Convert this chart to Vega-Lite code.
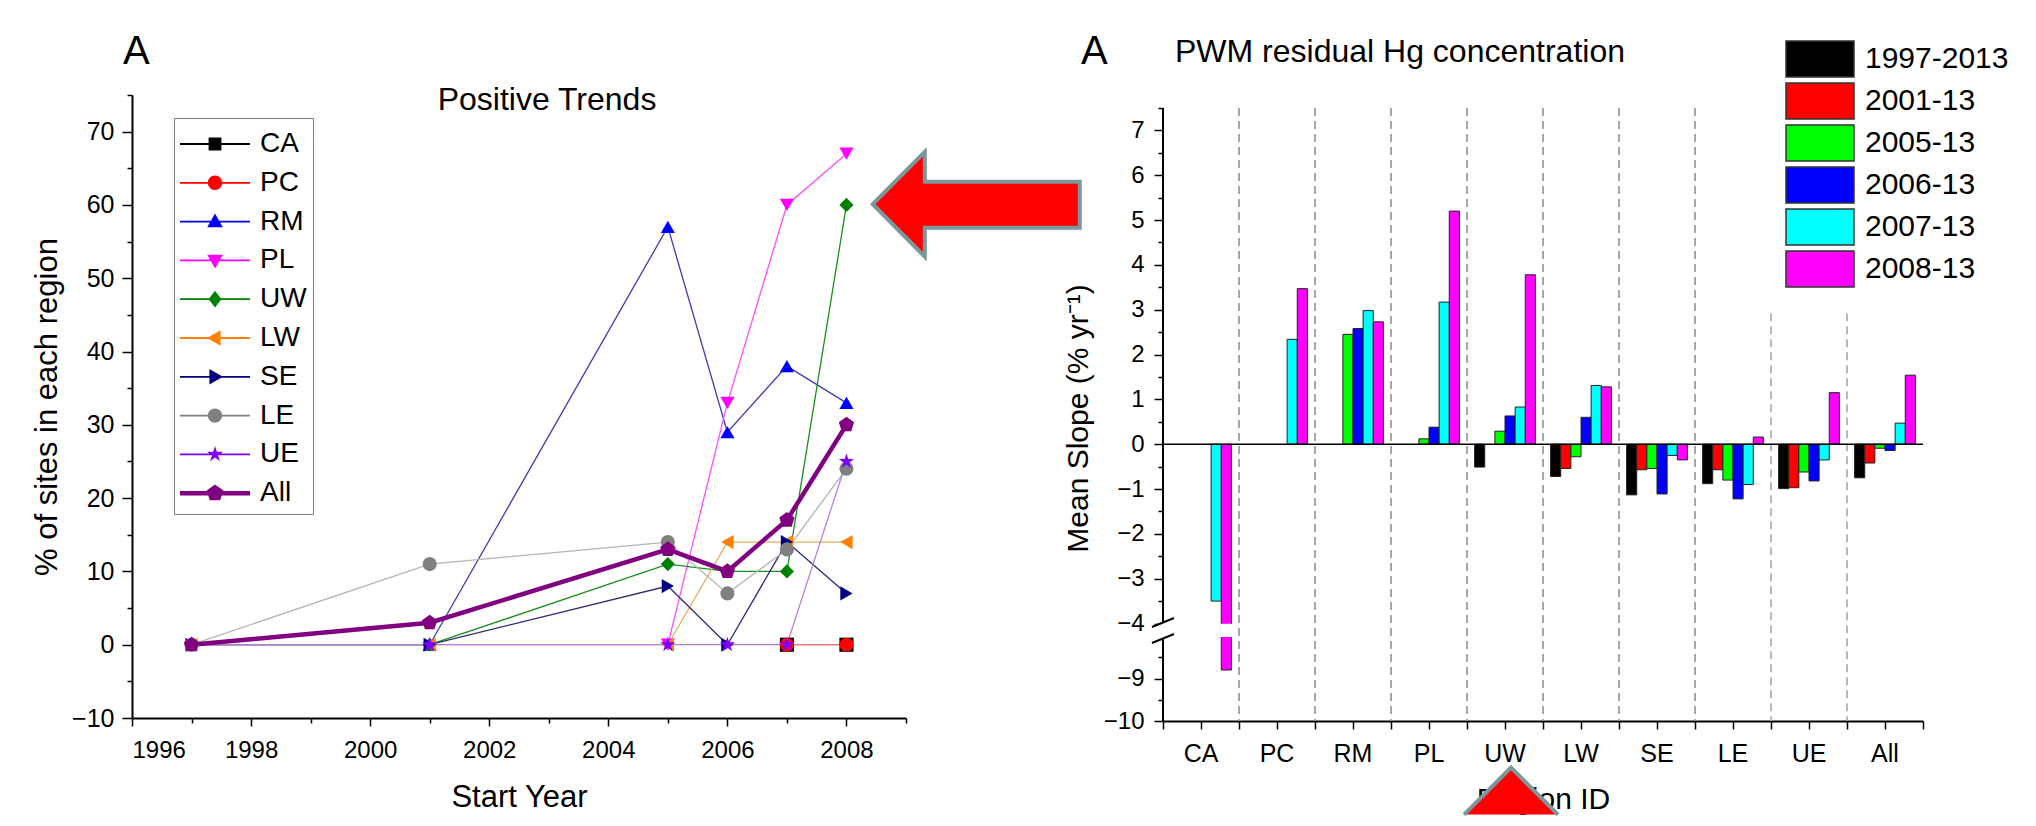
{
  "$schema": "https://vega.github.io/schema/vega-lite/v6.json",
  "background": "white",
  "padding": {"left": 31, "top": 18, "right": 0, "bottom": 0},
  "spacing": -25,
  "config": {
    "font": "Liberation Sans",
    "view": {"stroke": null},
    "axis": {"labelColor": "#000", "titleColor": "#000", "tickColor": "#000", "domainColor": "#000", "titleFontWeight": "normal", "labelFont": "Liberation Sans", "titleFont": "Liberation Sans", "grid": false, "domainWidth": 2, "tickWidth": 1.5},
    "legend": {"labelFont": "Liberation Sans", "labelColor": "#000"},
    "title": {"font": "Liberation Sans", "fontWeight": "normal", "color": "#000"}
  },
  "resolve": {
    "scale": {"color": "independent", "fill": "independent", "shape": "independent", "stroke": "independent"},
    "legend": {"color": "independent", "fill": "independent", "shape": "independent", "stroke": "independent"}
  },
  "datasets": {
    "bars": [
      {"region": "CA", "period": "2007-13", "slope": -3.5}, {"region": "CA", "period": "2008-13", "slope": -8.8},
      {"region": "PC", "period": "2007-13", "slope": 2.34}, {"region": "PC", "period": "2008-13", "slope": 3.47},
      {"region": "RM", "period": "2005-13", "slope": 2.45}, {"region": "RM", "period": "2006-13", "slope": 2.58}, {"region": "RM", "period": "2007-13", "slope": 2.98}, {"region": "RM", "period": "2008-13", "slope": 2.73},
      {"region": "PL", "period": "2005-13", "slope": 0.12}, {"region": "PL", "period": "2006-13", "slope": 0.38}, {"region": "PL", "period": "2007-13", "slope": 3.17}, {"region": "PL", "period": "2008-13", "slope": 5.2},
      {"region": "UW", "period": "1997-2013", "slope": -0.51}, {"region": "UW", "period": "2005-13", "slope": 0.29}, {"region": "UW", "period": "2006-13", "slope": 0.63}, {"region": "UW", "period": "2007-13", "slope": 0.83}, {"region": "UW", "period": "2008-13", "slope": 3.78},
      {"region": "LW", "period": "1997-2013", "slope": -0.72}, {"region": "LW", "period": "2001-13", "slope": -0.54}, {"region": "LW", "period": "2005-13", "slope": -0.28}, {"region": "LW", "period": "2006-13", "slope": 0.6}, {"region": "LW", "period": "2007-13", "slope": 1.31}, {"region": "LW", "period": "2008-13", "slope": 1.28},
      {"region": "SE", "period": "1997-2013", "slope": -1.13}, {"region": "SE", "period": "2001-13", "slope": -0.57}, {"region": "SE", "period": "2005-13", "slope": -0.54}, {"region": "SE", "period": "2006-13", "slope": -1.11}, {"region": "SE", "period": "2007-13", "slope": -0.25}, {"region": "SE", "period": "2008-13", "slope": -0.35},
      {"region": "LE", "period": "1997-2013", "slope": -0.88}, {"region": "LE", "period": "2001-13", "slope": -0.57}, {"region": "LE", "period": "2005-13", "slope": -0.8}, {"region": "LE", "period": "2006-13", "slope": -1.22}, {"region": "LE", "period": "2007-13", "slope": -0.9}, {"region": "LE", "period": "2008-13", "slope": 0.16},
      {"region": "UE", "period": "1997-2013", "slope": -0.99}, {"region": "UE", "period": "2001-13", "slope": -0.97}, {"region": "UE", "period": "2005-13", "slope": -0.62}, {"region": "UE", "period": "2006-13", "slope": -0.82}, {"region": "UE", "period": "2007-13", "slope": -0.35}, {"region": "UE", "period": "2008-13", "slope": 1.15},
      {"region": "All", "period": "1997-2013", "slope": -0.75}, {"region": "All", "period": "2001-13", "slope": -0.42}, {"region": "All", "period": "2005-13", "slope": -0.09}, {"region": "All", "period": "2006-13", "slope": -0.14}, {"region": "All", "period": "2007-13", "slope": 0.47}, {"region": "All", "period": "2008-13", "slope": 1.54}
    ],
    "bounds": [{"region": "PC"}, {"region": "RM"}, {"region": "PL"}, {"region": "UW"}, {"region": "LW"}, {"region": "SE"}, {"region": "LE"}, {"region": "UE"}, {"region": "All"}]
  },
  "hconcat": [
    {
      "title": {"text": "A", "fontSize": 40, "anchor": "start", "frame": "group", "dx": -9, "offset": 12},
      "resolve": {
        "scale": {"color": "independent", "fill": "independent", "shape": "independent", "stroke": "independent"},
        "legend": {"color": "independent", "fill": "independent", "shape": "independent", "stroke": "independent"}
      },
      "vconcat": [
        {
          "width": 774,
          "height": 623,
          "title": {"text": "Positive Trends", "fontSize": 32, "anchor": "middle", "frame": "group", "dx": 28, "offset": -23},
          "data": {"values": [
            {"series": "CA", "year": 2007, "pct": 0}, {"series": "CA", "year": 2008, "pct": 0},
            {"series": "PC", "year": 2007, "pct": 0}, {"series": "PC", "year": 2008, "pct": 0},
            {"series": "RM", "year": 2001, "pct": 0}, {"series": "RM", "year": 2005, "pct": 57}, {"series": "RM", "year": 2006, "pct": 29}, {"series": "RM", "year": 2007, "pct": 38}, {"series": "RM", "year": 2008, "pct": 33},
            {"series": "PL", "year": 2005, "pct": 0}, {"series": "PL", "year": 2006, "pct": 33}, {"series": "PL", "year": 2007, "pct": 60}, {"series": "PL", "year": 2008, "pct": 67},
            {"series": "UW", "year": 1997, "pct": 0}, {"series": "UW", "year": 2001, "pct": 0}, {"series": "UW", "year": 2005, "pct": 11}, {"series": "UW", "year": 2006, "pct": 10}, {"series": "UW", "year": 2007, "pct": 10}, {"series": "UW", "year": 2008, "pct": 60},
            {"series": "LW", "year": 1997, "pct": 0}, {"series": "LW", "year": 2001, "pct": 0}, {"series": "LW", "year": 2005, "pct": 0}, {"series": "LW", "year": 2006, "pct": 14}, {"series": "LW", "year": 2007, "pct": 14}, {"series": "LW", "year": 2008, "pct": 14},
            {"series": "SE", "year": 1997, "pct": 0}, {"series": "SE", "year": 2001, "pct": 0}, {"series": "SE", "year": 2005, "pct": 8}, {"series": "SE", "year": 2006, "pct": 0}, {"series": "SE", "year": 2007, "pct": 14}, {"series": "SE", "year": 2008, "pct": 7},
            {"series": "LE", "year": 1997, "pct": 0}, {"series": "LE", "year": 2001, "pct": 11}, {"series": "LE", "year": 2005, "pct": 14}, {"series": "LE", "year": 2006, "pct": 7}, {"series": "LE", "year": 2007, "pct": 13}, {"series": "LE", "year": 2008, "pct": 24},
            {"series": "UE", "year": 1997, "pct": 0}, {"series": "UE", "year": 2001, "pct": 0}, {"series": "UE", "year": 2005, "pct": 0}, {"series": "UE", "year": 2006, "pct": 0}, {"series": "UE", "year": 2007, "pct": 0}, {"series": "UE", "year": 2008, "pct": 25},
            {"series": "All", "year": 1997, "pct": 0}, {"series": "All", "year": 2001, "pct": 3}, {"series": "All", "year": 2005, "pct": 13}, {"series": "All", "year": 2006, "pct": 10}, {"series": "All", "year": 2007, "pct": 17}, {"series": "All", "year": 2008, "pct": 30}
          ]},
          "resolve": {"axis": {"x": "independent", "y": "independent"}},
          "layer": [
            {
              "transform": [{"filter": "datum.series !== 'All'"}],
              "mark": {"type": "line", "strokeWidth": 1.3},
              "encoding": {
                "x": {"field": "year", "type": "quantitative", "scale": {"domain": [1996, 2009], "nice": false, "zero": false},
                  "axis": {"orient": "bottom", "values": [1996, 1998, 2000, 2002, 2004, 2006, 2008], "format": "d", "labelFontSize": 24, "tickSize": 8, "labelPadding": 12, "title": "Start Year", "titleFontSize": 31, "titlePadding": 20}},
                "y": {"field": "pct", "type": "quantitative", "scale": {"domain": [-10, 75], "nice": false},
                  "axis": {"orient": "left", "values": [-10, 0, 10, 20, 30, 40, 50, 60, 70], "labelFontSize": 25, "tickSize": 10, "labelPadding": 8, "title": "% of sites in each region", "titleFontSize": 31, "titlePadding": 8}},
                "stroke": {"field": "series", "type": "nominal",
                  "scale": {"domain": ["CA", "PC", "RM", "PL", "UW", "LW", "SE", "LE", "UE", "All"], "range": ["#8c8c8c", "#ff7070", "#3c3cb4", "#ff4dff", "#1a8f1a", "#e0b060", "#2a2a7a", "#b4b4b4", "#b27fe0", "#800080"]},
                  "legend": {"title": null, "orient": "none", "legendX": 42, "legendY": 23, "labelFontSize": 28, "labelOffset": 40, "symbolSize": 1600, "symbolStrokeWidth": 0, "symbolOpacity": 1, "padding": 6, "rowPadding": 4.8, "strokeColor": "#7f7f7f", "fillColor": "white"}}
              }
            },
            {
              "transform": [{"filter": "datum.series === 'All'"}],
              "mark": {"type": "line", "strokeWidth": 4.5, "color": "#800080"},
              "encoding": {
                "x": {"field": "year", "type": "quantitative", "axis": null},
                "y": {"field": "pct", "type": "quantitative", "axis": null}
              }
            },
            {
              "mark": {"type": "point", "filled": true, "opacity": 0, "strokeWidth": 0},
              "encoding": {
                "x": {"field": "year", "type": "quantitative", "axis": {"orient": "bottom", "values": [1997, 1999, 2001, 2003, 2005, 2007, 2009], "labels": false, "tickSize": 5, "domain": false, "title": null}},
                "y": {"field": "pct", "type": "quantitative", "axis": {"orient": "left", "values": [-5, 5, 15, 25, 35, 45, 55, 65, 75], "labels": false, "tickSize": 5, "domain": false, "title": null}},
                "shape": {"field": "series", "type": "nominal",
                  "scale": {"domain": ["CA", "PC", "RM", "PL", "UW", "LW", "SE", "LE", "UE", "All"], "range": [
                    "M-1,-0.045H2.5V0.045H-1ZM0.43,-0.32H1.07V0.32H0.43Z",
                    "M-1,-0.045H2.5V0.045H-1ZM0.39,0A0.36,0.36,0,1,1,1.11,0A0.36,0.36,0,1,1,0.39,0Z",
                    "M-1,-0.045H2.5V0.045H-1ZM0.75,-0.4L1.14,0.28L0.36,0.28Z",
                    "M-1,-0.045H2.5V0.045H-1ZM0.75,0.4L0.36,-0.28L1.14,-0.28Z",
                    "M-1,-0.045H2.5V0.045H-1ZM0.75,-0.42L1.07,0L0.75,0.42L0.43,0Z",
                    "M-1,-0.045H2.5V0.045H-1ZM0.35,0L1.03,-0.39L1.03,0.39Z",
                    "M-1,-0.045H2.5V0.045H-1ZM1.15,0L0.47,0.39L0.47,-0.39Z",
                    "M-1,-0.045H2.5V0.045H-1ZM0.39,0A0.36,0.36,0,1,1,1.11,0A0.36,0.36,0,1,1,0.39,0Z",
                    "M-1,-0.045H2.5V0.045H-1ZM0.75,-0.42L0.844,-0.13L1.149,-0.13L0.903,0.05L0.997,0.34L0.75,0.16L0.503,0.34L0.597,0.05L0.351,-0.13L0.656,-0.13Z",
                    "M-1,-0.11H2.5V0.11H-1ZM0.75,-0.44L1.168,-0.136L1.009,0.356L0.491,0.356L0.332,-0.136Z"]},
                  "legend": {"title": null, "orient": "none", "legendX": 42, "legendY": 23, "labelFontSize": 28, "labelOffset": 40, "symbolSize": 1600, "symbolStrokeWidth": 0, "symbolOpacity": 1, "padding": 6, "rowPadding": 4.8, "strokeColor": "#7f7f7f", "fillColor": "white"}},
                "fill": {"field": "series", "type": "nominal",
                  "scale": {"domain": ["CA", "PC", "RM", "PL", "UW", "LW", "SE", "LE", "UE", "All"], "range": ["#000000", "#ff0000", "#0000ff", "#ff00ff", "#008000", "#ff8000", "#000080", "#808080", "#8000ff", "#800080"]},
                  "legend": {"title": null, "orient": "none", "legendX": 42, "legendY": 23, "labelFontSize": 28, "labelOffset": 40, "symbolSize": 1600, "symbolStrokeWidth": 0, "symbolOpacity": 1, "padding": 6, "rowPadding": 4.8, "strokeColor": "#7f7f7f", "fillColor": "white"}}
              }
            },
            {"transform": [{"filter": "datum.series === 'CA'"}], "mark": {"type": "point", "shape": "square", "fill": "#000000", "filled": true, "opacity": 1, "size": 200, "strokeWidth": 0},
             "encoding": {"x": {"field": "year", "type": "quantitative", "axis": null}, "y": {"field": "pct", "type": "quantitative", "axis": null}}},
            {"transform": [{"filter": "datum.series === 'PC'"}], "mark": {"type": "point", "shape": "circle", "fill": "#ff0000", "filled": true, "opacity": 1, "size": 200, "strokeWidth": 0},
             "encoding": {"x": {"field": "year", "type": "quantitative", "axis": null}, "y": {"field": "pct", "type": "quantitative", "axis": null}}},
            {"transform": [{"filter": "datum.series === 'RM'"}], "mark": {"type": "point", "shape": "triangle-up", "fill": "#0000ff", "filled": true, "opacity": 1, "size": 200, "strokeWidth": 0},
             "encoding": {"x": {"field": "year", "type": "quantitative", "axis": null}, "y": {"field": "pct", "type": "quantitative", "axis": null}}},
            {"transform": [{"filter": "datum.series === 'PL'"}], "mark": {"type": "point", "shape": "triangle-down", "fill": "#ff00ff", "filled": true, "opacity": 1, "size": 200, "strokeWidth": 0},
             "encoding": {"x": {"field": "year", "type": "quantitative", "axis": null}, "y": {"field": "pct", "type": "quantitative", "axis": null}}},
            {"transform": [{"filter": "datum.series === 'UW'"}], "mark": {"type": "point", "shape": "diamond", "fill": "#008000", "filled": true, "opacity": 1, "size": 200, "strokeWidth": 0},
             "encoding": {"x": {"field": "year", "type": "quantitative", "axis": null}, "y": {"field": "pct", "type": "quantitative", "axis": null}}},
            {"transform": [{"filter": "datum.series === 'LW'"}], "mark": {"type": "point", "shape": "triangle-left", "fill": "#ff8000", "filled": true, "opacity": 1, "size": 200, "strokeWidth": 0},
             "encoding": {"x": {"field": "year", "type": "quantitative", "axis": null}, "y": {"field": "pct", "type": "quantitative", "axis": null}}},
            {"transform": [{"filter": "datum.series === 'SE'"}], "mark": {"type": "point", "shape": "triangle-right", "fill": "#000080", "filled": true, "opacity": 1, "size": 200, "strokeWidth": 0},
             "encoding": {"x": {"field": "year", "type": "quantitative", "axis": null}, "y": {"field": "pct", "type": "quantitative", "axis": null}}},
            {"transform": [{"filter": "datum.series === 'LE'"}], "mark": {"type": "point", "shape": "circle", "fill": "#808080", "filled": true, "opacity": 1, "size": 200, "strokeWidth": 0},
             "encoding": {"x": {"field": "year", "type": "quantitative", "axis": null}, "y": {"field": "pct", "type": "quantitative", "axis": null}}},
            {"transform": [{"filter": "datum.series === 'UE'"}], "mark": {"type": "point", "shape": "M0,-1L0.2245,-0.309L0.951,-0.309L0.3633,0.118L0.5878,0.809L0,0.382L-0.5878,0.809L-0.3633,0.118L-0.951,-0.309L-0.2245,-0.309Z", "fill": "#8000ff", "filled": true, "opacity": 1, "size": 260, "strokeWidth": 0},
             "encoding": {"x": {"field": "year", "type": "quantitative", "axis": null}, "y": {"field": "pct", "type": "quantitative", "axis": null}}},
            {"transform": [{"filter": "datum.series === 'All'"}], "mark": {"type": "point", "shape": "M0,-1L0.951,-0.309L0.588,0.809L-0.588,0.809L-0.951,-0.309Z", "fill": "#800080", "filled": true, "opacity": 1, "size": 260, "strokeWidth": 0},
             "encoding": {"x": {"field": "year", "type": "quantitative", "axis": null}, "y": {"field": "pct", "type": "quantitative", "axis": null}}},
            {
              "data": {"values": [{}]},
              "mark": {"type": "point", "shape": "M-1,0L-0.497,-0.507L-0.497,-0.217L1,-0.217L1,0.227L-0.497,0.227L-0.497,0.507Z", "size": 42849, "filled": true, "fill": "#ff0000", "stroke": "#7b979b", "strokeWidth": 4, "opacity": 1},
              "encoding": {
                "x": {"datum": 2010.18, "type": "quantitative", "axis": null},
                "y": {"datum": 60.1, "type": "quantitative", "axis": null}
              }
            }
          ]
        }
      ]
    },
    {
      "title": {"text": "A", "fontSize": 40, "anchor": "start", "frame": "group", "dx": -82, "offset": -54},
      "resolve": {
        "scale": {"color": "independent", "fill": "independent", "shape": "independent", "stroke": "independent"},
        "legend": {"color": "independent", "fill": "independent", "shape": "independent", "stroke": "independent"}
      },
      "vconcat": [
        {
          "width": 760,
          "height": 626,
          "title": {"text": "PWM residual Hg concentration", "fontSize": 32, "anchor": "start", "frame": "group", "dx": 12, "offset": -51},
          "resolve": {"axis": {"x": "independent", "y": "independent"}},
          "layer": [
            {
              "data": {"name": "bounds"},
              "transform": [{"filter": "datum.region !== 'UE' && datum.region !== 'All'"}],
              "mark": {"type": "rule", "strokeDash": [8, 5], "color": "#8a8a8a", "strokeWidth": 1.5},
              "encoding": {
                "x": {"field": "region", "type": "nominal", "bandPosition": 0,
                  "scale": {"domain": ["CA", "PC", "RM", "PL", "UW", "LW", "SE", "LE", "UE", "All"], "paddingInner": 0, "paddingOuter": 0},
                  "axis": {"orient": "bottom", "tickBand": "extent", "labels": false, "domain": false, "tickSize": 8, "title": null}},
                "y": {"datum": 7.5, "type": "quantitative", "axis": null},
                "y2": {"datum": -10}
              }
            },
            {
              "data": {"name": "bounds"},
              "transform": [{"filter": "datum.region === 'UE' || datum.region === 'All'"}],
              "mark": {"type": "rule", "strokeDash": [8, 5], "color": "#a0a0a0", "strokeWidth": 1.5},
              "encoding": {
                "x": {"field": "region", "type": "nominal", "bandPosition": 0, "axis": null},
                "y": {"datum": 3.5, "type": "quantitative", "axis": null},
                "y2": {"datum": -10}
              }
            },
            {
              "data": {"name": "bars"},
              "mark": {"type": "bar", "stroke": "#222", "strokeWidth": 1},
              "encoding": {
                "x": {"field": "region", "type": "nominal",
                  "scale": {"domain": ["CA", "PC", "RM", "PL", "UW", "LW", "SE", "LE", "UE", "All"], "paddingInner": 0, "paddingOuter": 0},
                  "axis": {"orient": "bottom", "labelAngle": 0, "labelFontSize": 25, "tickSize": 8, "labelPadding": 12, "title": "Region ID", "titleFontSize": 30, "titlePadding": 18}},
                "xOffset": {"field": "period", "type": "nominal", "scale": {"domain": ["1997-2013", "2001-13", "2005-13", "2006-13", "2007-13", "2008-13"], "paddingOuter": 0.75, "paddingInner": 0}},
                "y": {"field": "slope", "type": "quantitative",
                  "scale": {"domain": [-10, -8, -4.1, 7.79], "range": [626, 541, 533, 0], "nice": false, "zero": false},
                  "axis": {"orient": "left", "values": [-10, -9, -4, -3, -2, -1, 0, 1, 2, 3, 4, 5, 6, 7], "labelFontSize": 24, "tickSize": 9, "labelPadding": 10, "domain": false, "title": "Mean Slope (% yr⁻¹)", "titleFontSize": 30, "titlePadding": 10, "titleY": 323}},
                "color": {"field": "period", "type": "nominal",
                  "scale": {"domain": ["1997-2013", "2001-13", "2005-13", "2006-13", "2007-13", "2008-13"], "range": ["#000000", "#ff0000", "#00ff00", "#0000ff", "#00ffff", "#ff00ff"]},
                  "legend": {"title": null, "orient": "none", "legendX": 601.5, "legendY": -77, "symbolType": "M-1,-0.923H2.487V0.923H-1Z", "symbolSize": 1521, "symbolStrokeColor": "#333", "symbolStrokeWidth": 1.5, "labelFontSize": 30, "labelOffset": 39, "rowPadding": -6.6, "padding": 20.5, "fillColor": "white"}}
              }
            },
            {
              "data": {"name": "bars"},
              "transform": [{"filter": "datum.region === 'CA' && datum.period === '2008-13'"}],
              "mark": {"type": "rect", "color": "white", "stroke": "white", "strokeWidth": 2},
              "encoding": {
                "x": {"field": "region", "type": "nominal", "axis": null},
                "xOffset": {"field": "period", "type": "nominal"},
                "y": {"datum": -4.03, "type": "quantitative", "axis": null},
                "y2": {"datum": -8}
              }
            },
            {
              "data": {"values": [{}]},
              "mark": {"type": "rule", "color": "#000", "strokeWidth": 1.5},
              "encoding": {
                "y": {"datum": 0, "type": "quantitative", "axis": {"orient": "left", "values": [-9.5, -8.5, -3.5, -2.5, -1.5, -0.5, 0.5, 1.5, 2.5, 3.5, 4.5, 5.5, 6.5, 7.5], "labels": false, "domain": false, "tickSize": 5, "title": null}}
              }
            },
            {
              "data": {"values": [{}]},
              "mark": {"type": "rule", "color": "#000", "strokeWidth": 2},
              "encoding": {
                "x": {"datum": "CA", "bandPosition": 0, "axis": null},
                "y": {"datum": 7.5, "type": "quantitative", "axis": null},
                "y2": {"datum": -10}
              }
            },
            {
              "data": {"values": [{}]},
              "mark": {"type": "point", "shape": "M-1,-0.32L1,-1.14L1,0.32L-1,1.14Z", "size": 484, "filled": true, "fill": "white", "strokeWidth": 0, "opacity": 1},
              "encoding": {
                "x": {"datum": "CA", "bandPosition": 0, "axis": null},
                "y": {"datum": -5.32, "type": "quantitative", "axis": null}
              }
            },
            {
              "data": {"values": [{}]},
              "mark": {"type": "point", "shape": "M-1,-0.32L1,-1.14M-1,1.14L1,0.32", "size": 484, "filled": false, "stroke": "#000", "strokeWidth": 2, "opacity": 1},
              "encoding": {
                "x": {"datum": "CA", "bandPosition": 0, "axis": null},
                "y": {"datum": -5.32, "type": "quantitative", "axis": null}
              }
            },
            {
              "data": {"values": [{}]},
              "mark": {"type": "point", "shape": "M-0.872,0.4L0.128,-0.6L1.128,0.4", "size": 8836, "filled": true, "fill": "#ff0000", "stroke": "#7b979b", "strokeWidth": 4, "strokeCap": "butt", "opacity": 1},
              "encoding": {
                "x": {"datum": "UW", "axis": null},
                "y": {"datum": -11.76, "type": "quantitative", "axis": null}
              }
            }
          ]
        }
      ]
    }
  ]
}
